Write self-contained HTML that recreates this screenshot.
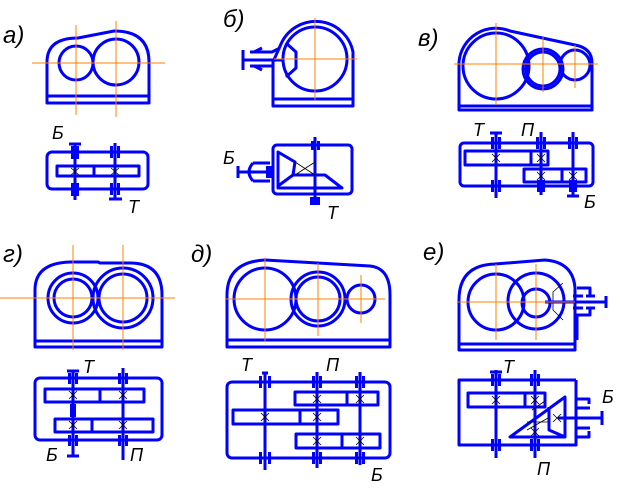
<!DOCTYPE html>
<html><head><meta charset="utf-8"><style>
html,body{margin:0;padding:0;background:#fff;}
svg{display:block}
text{font-family:"Liberation Sans",sans-serif;font-style:italic;fill:#000}
.b{fill:none;stroke:#0000ff;stroke-width:3;stroke-linejoin:round}
.o{stroke:#ff8000;stroke-width:1;fill:none}
.k{stroke:#000;stroke-width:0.8;fill:none}
.f{fill:#0000ff}
</style></head><body>
<svg width="625" height="497" viewBox="0 0 625 497" xmlns="http://www.w3.org/2000/svg">
<!-- ===== а ===== -->
<text x="3" y="43" font-size="24">а)</text>
<path class="b" d="M47,103 V62 Q47,38 78,38 L114,31 Q149,31 149,62 V103 Z M47,96 H149"/>
<circle class="b" cx="76" cy="63" r="17"/>
<circle class="b" cx="116" cy="62" r="23"/>
<path class="o" d="M32,63 H165 M76,25 V115 M116,21 V117"/>
<rect class="b" x="47" y="152" width="101" height="37" rx="5"/>
<rect class="b" x="57" y="166" width="82" height="10"/>
<path class="b" d="M94,166 V176 M75,143 V200 M115,143 V200 M69,144 H81 M109,199 H122"/>
<path class="k" d="M71,168 L79,175 M79,168 L71,175 M111,168 L119,175 M119,168 L111,175"/>
<rect class="f" x="71" y="146" width="8" height="13"/><rect class="f" x="71" y="183" width="8" height="13"/>
<rect class="f" x="110" y="146" width="3" height="12"/><rect class="f" x="117" y="146" width="3" height="12"/>
<rect class="f" x="110" y="183" width="3" height="12"/><rect class="f" x="117" y="183" width="3" height="12"/>
<text x="52" y="139" font-size="18">Б</text>
<text x="128" y="213" font-size="18">Т</text>

<!-- ===== б ===== -->
<text x="223" y="27" font-size="24">б)</text>
<path class="b" d="M273,106 V62 L281,44 A38,38 0 0 1 353,52 V106 Z M273,99 H353"/>
<circle class="b" cx="315" cy="59" r="32"/>
<path class="b" d="M286,43 L296,52 V68 L286,77"/>
<path class="b" d="M243,50 V70 M243,60 H282 M250,52 H272 L280,48 M250,66 H272 M254,52 L262,48 M254,66 L262,70"/>
<path class="o" d="M274,59 H357 M315,18 V100"/>
<rect class="b" x="273" y="145" width="79" height="49" rx="4"/>
<path class="b" d="M278,152 L295,162 L293,175 L278,186 Z M278,152 V188 H342 L325,175 H293 M315,137 V205"/>
<path class="k" d="M295,162 L315,175 M295,175 L315,162"/>
<path class="b" d="M238,172 H270 M238,166 V178 M253,163 H270 M253,181 H270 M253,163 Q245,172 253,181"/>
<rect class="f" x="266" y="166" width="8" height="12"/>
<rect class="f" x="310" y="197" width="10" height="8"/>
<rect class="f" x="311" y="141" width="3" height="9"/><rect class="f" x="317" y="141" width="3" height="9"/>
<text x="223" y="164" font-size="18">Б</text>
<text x="327" y="219" font-size="18">Т</text>

<!-- ===== в ===== -->
<text x="418" y="46" font-size="24">в)</text>
<path class="b" d="M459,110 V62 A37,37 0 0 1 510,31 L575,45 Q592,48 592,63 V110 Z M459,106 H592"/>
<circle class="b" cx="496" cy="66" r="33"/>
<circle class="b" cx="543" cy="69" r="17"/><circle class="b" cx="543" cy="69" r="20"/>
<circle class="b" cx="575" cy="65" r="15"/>
<path class="o" d="M454,64 H598 M496,23 V105 M543,37 V92 M575,45 V88"/>
<rect class="b" x="460" y="143" width="133" height="43" rx="4"/>
<rect class="b" x="465" y="151" width="83" height="14"/>
<rect class="b" x="524" y="169" width="62" height="13"/>
<path class="b" d="M531,151 V165 M562,169 V182 M496,132 V198 M541,132 V195 M573,132 V196 M490,133 H502 M567,196 H579"/>
<path class="k" d="M492,154 L500,162 M500,154 L492,162 M537,154 L545,162 M545,154 L537,162 M537,172 L545,180 M545,172 L537,180 M569,172 L577,180 M577,172 L569,180"/>
<rect class="f" x="491" y="137" width="3" height="12"/><rect class="f" x="498" y="137" width="3" height="12"/>
<rect class="f" x="491" y="180" width="3" height="12"/><rect class="f" x="498" y="180" width="3" height="12"/>
<rect class="f" x="536" y="137" width="3" height="12"/><rect class="f" x="543" y="137" width="3" height="12"/>
<rect class="f" x="537" y="180" width="8" height="12"/>
<rect class="f" x="568" y="137" width="3" height="12"/><rect class="f" x="575" y="137" width="3" height="12"/>
<rect class="f" x="569" y="180" width="8" height="12"/>
<text x="473" y="136" font-size="18">Т</text>
<text x="521" y="136" font-size="18">П</text>
<text x="584" y="208" font-size="18">Б</text>

<!-- ===== г ===== -->
<text x="3" y="262" font-size="24">г)</text>
<path class="b" d="M35,347 V290 Q35,263 70,262 H98 L100,263 H130 Q162,263 162,295 V347 Z M35,341 H162"/>
<circle class="b" cx="73" cy="298" r="25"/><circle class="b" cx="73" cy="298" r="19"/>
<circle class="b" cx="123" cy="298" r="30"/><circle class="b" cx="123" cy="298" r="24"/>
<path class="o" d="M0,298 H175 M73,245 V350 M123,245 V350"/>
<rect class="b" x="35" y="378" width="127" height="62" rx="5"/>
<rect class="b" x="45" y="389" width="99" height="13"/>
<rect class="b" x="55" y="419" width="98" height="13"/>
<path class="b" d="M100,389 V402 M92,419 V432 M73,370 V456 M123,368 V460 M67,371 H79 M67,456 H79"/>
<path class="k" d="M69,391 L77,399 M77,391 L69,399 M119,391 L127,399 M127,391 L119,399 M69,421 L77,429 M77,421 L69,429 M119,421 L127,429 M127,421 L119,429"/>
<rect class="f" x="68" y="373" width="3" height="11"/><rect class="f" x="75" y="373" width="3" height="11"/>
<rect class="f" x="118" y="373" width="3" height="11"/><rect class="f" x="125" y="373" width="3" height="11"/>
<rect class="f" x="68" y="435" width="3" height="11"/><rect class="f" x="75" y="435" width="3" height="11"/>
<rect class="f" x="118" y="435" width="3" height="11"/><rect class="f" x="125" y="435" width="3" height="11"/>
<rect class="f" x="70" y="404" width="6" height="13"/>
<text x="83" y="373" font-size="18">Т</text>
<text x="46" y="461" font-size="18">Б</text>
<text x="130" y="461" font-size="18">П</text>

<!-- ===== д ===== -->
<text x="191" y="262" font-size="24">д)</text>
<path class="b" d="M227,347 V295 Q227,262 265,260 L370,266 Q390,268 390,295 V347 Z M227,340 H390"/>
<circle class="b" cx="265" cy="299" r="31"/>
<circle class="b" cx="318" cy="299" r="22"/><circle class="b" cx="318" cy="299" r="27"/>
<circle class="b" cx="361" cy="299" r="14"/>
<path class="o" d="M225,299 H385 M265,258 V341 M318,263 V336 M361,275 V323"/>
<rect class="b" x="227" y="382" width="163" height="76" rx="5"/>
<rect class="b" x="295" y="392" width="83" height="13"/>
<rect class="b" x="233" y="410" width="105" height="14"/>
<rect class="b" x="296" y="434" width="84" height="14"/>
<path class="b" d="M347,392 V405 M300,410 V424 M342,434 V448 M265,372 V470 M317,372 V468 M360,372 V465 M262,373 H268"/>
<path class="k" d="M313,395 L321,403 M321,395 L313,403 M356,395 L364,403 M364,395 L356,403 M261,413 L269,421 M269,413 L261,421 M313,413 L321,421 M321,413 L313,421 M313,437 L321,445 M321,437 L313,445 M356,437 L364,445 M364,437 L356,445"/>
<rect class="f" x="259" y="376" width="3" height="12"/><rect class="f" x="268" y="376" width="3" height="12"/>
<rect class="f" x="312" y="376" width="3" height="12"/><rect class="f" x="319" y="376" width="3" height="12"/>
<rect class="f" x="355" y="376" width="3" height="12"/><rect class="f" x="362" y="376" width="3" height="12"/>
<rect class="f" x="259" y="452" width="3" height="12"/><rect class="f" x="268" y="452" width="3" height="12"/>
<rect class="f" x="312" y="452" width="3" height="12"/><rect class="f" x="319" y="452" width="3" height="12"/>
<rect class="f" x="355" y="452" width="3" height="12"/><rect class="f" x="362" y="452" width="3" height="12"/>
<text x="241" y="371" font-size="18">Т</text>
<text x="326" y="371" font-size="18">П</text>
<text x="371" y="481" font-size="18">Б</text>

<!-- ===== е ===== -->
<text x="423" y="260" font-size="24">е)</text>
<path class="b" d="M459,350 V300 Q459,265 495,264 L545,260 Q573,262 575,288 V350 Z M459,344 H575"/>
<circle class="b" cx="496" cy="302" r="28"/>
<circle class="b" cx="536" cy="301" r="28"/><circle class="b" cx="536" cy="303" r="14"/>
<path class="k" d="M563,283 L553,292 V310 L563,320"/>
<path class="b" d="M577,288 H590 V296 M573,296 H583 M586,296 H595 M573,308 H583 M586,308 H595 M590,308 V315 H577 V340 M545,302 H606 M606,296 V308"/>
<path class="o" d="M458,302 H575 M496,264 V340 M536,264 V340"/>
<path class="b" d="M576,380 H459 V445 H576 V380"/>
<rect class="b" x="468" y="393" width="77" height="14"/>
<path class="b" d="M525,393 V407 M496,370 V458 M535,370 V458 M490,372 H502 M510,437 L565,397 V437 Z M549,407 V430 L565,437"/>
<path class="k" d="M527,422 L548,422 M527,430 L548,418 M532,410 L545,401"/>
<path class="b" d="M558,418 H603 M602,411 V425 M576,408 H590 M576,428 H590 M576,404 V437 H589 V431 M589,404 V399 H576"/>
<path class="k" d="M492,396 L500,404 M500,396 L492,404 M531,396 L539,404 M539,396 L531,404 M531,428 L539,436 M539,428 L531,436 M553,414 L561,422 M561,414 L553,422"/>
<rect class="f" x="491" y="374" width="3" height="12"/><rect class="f" x="498" y="374" width="3" height="12"/>
<rect class="f" x="530" y="374" width="3" height="12"/><rect class="f" x="537" y="374" width="3" height="12"/>
<rect class="f" x="491" y="439" width="3" height="12"/><rect class="f" x="498" y="439" width="3" height="12"/>
<rect class="f" x="530" y="439" width="3" height="12"/><rect class="f" x="537" y="439" width="3" height="12"/>
<text x="503" y="373" font-size="18">Т</text>
<text x="602" y="403" font-size="18">Б</text>
<text x="537" y="475" font-size="18">П</text>
</svg>
</body></html>
